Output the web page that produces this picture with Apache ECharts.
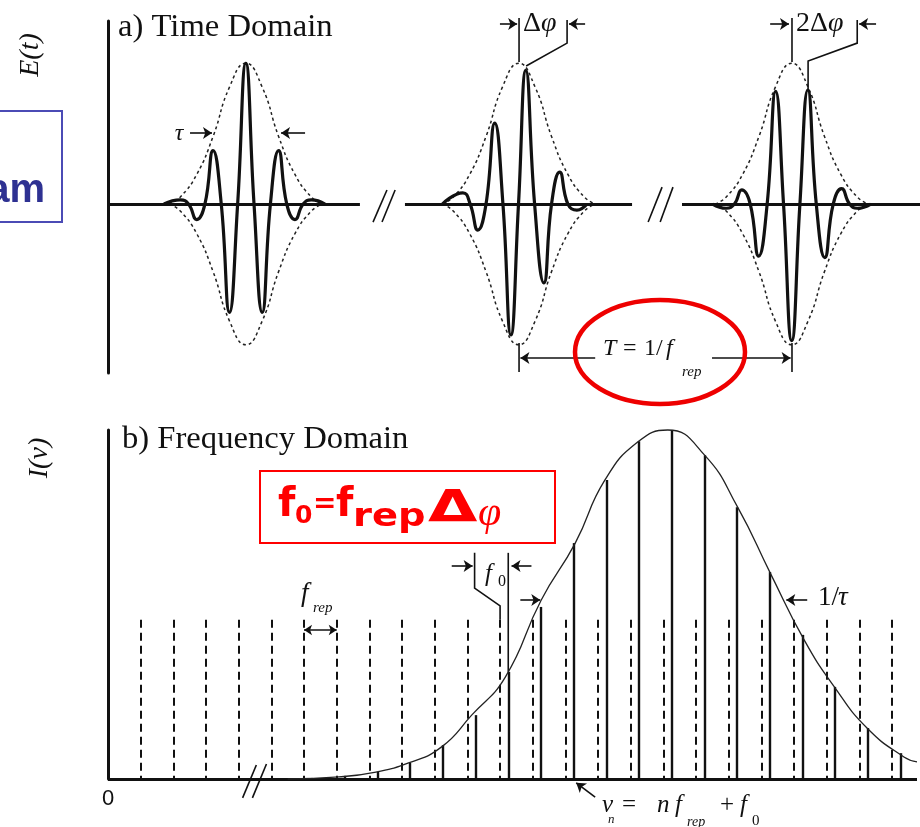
<!DOCTYPE html>
<html><head><meta charset="utf-8">
<script src="https://cdn.jsdelivr.net/npm/echarts/dist/echarts.min.js"></script>
<style>html,body{margin:0;padding:0;background:#fff}#c{width:920px;height:827px}</style>
</head><body><div id="c"></div>
<script>
// ---------- DATA ----------
// a) Time domain: time in arbitrary units, pulse spacing T = 10
const pulseCenters = [0, 10, 20];
// Gaussian envelope of one pulse, relative to its centre (time, field)
const envelopeShape = [[-2.8,0],[-2.4,0.05],[-1.8,0.21],[-1.2,0.48],[-0.6,0.83],[0,1],[0.6,0.83],[1.2,0.48],[1.8,0.21],[2.4,0.05],[2.8,0]];
// carrier field of the three pulses (turning points and zero crossings)
const carrier1 = [[-3.0,0],[-2.4,0.03],[-2.1,0],[-1.8,-0.11],[-1.5,0],[-1.2,0.38],[-0.9,0],[-0.6,-0.77],[-0.3,0],[0,1.0],[0.3,0],[0.6,-0.77],[0.9,0],[1.2,0.38],[1.5,0],[1.8,-0.11],[2.1,0],[2.4,0.03],[2.9,0]];
const carrier2 = [[7.2,0],[7.95,0.08],[8.22,0],[8.5,-0.185],[8.8,0],[9.12,0.575],[9.42,0],[9.71,-0.93],[9.99,0],[10.26,0.95],[10.58,0],[10.92,-0.56],[11.2,0],[11.5,0.227],[11.8,0],[12.13,-0.043],[12.5,0]];
const carrier3 = [[17.1,0],[17.6,-0.03],[17.9,0],[18.17,0.1],[18.48,0],[18.79,-0.37],[19.1,0],[19.41,0.8],[19.7,0],[20.0,-0.97],[20.3,0],[20.59,0.81],[20.9,0],[21.21,-0.38],[21.52,0],[21.83,0.11],[22.12,0],[22.4,-0.03],[22.9,0]];
const timeAxisSegments = [[-5.05,4.18],[5.83,14.15],[15.98,24.7]];

// b) Frequency domain: frequency in units of f_rep
const combTeeth = [1,2,3,4,5,6,7,8,9,10,11,12,13,14,15,16,17,18,19,20,21,22,23,24];
const combTeethHeight = 0.456;
const modeFreqs = [6.25,7.25,8.25,9.25,10.25,11.25,12.25,13.25,14.25,15.25,16.25,17.25,18.25,19.25,20.25,21.25,22.25,23.25,24.25];
const modeIntensity = [0.003,0.009,0.02,0.046,0.097,0.183,0.307,0.493,0.676,0.857,0.968,1.0,0.928,0.779,0.593,0.413,0.264,0.146,0.074];
const spectrumEnvelope = [[5.5,0],[7.07,0.006],[8.2,0.02],[9.2,0.046],[10.21,0.092],[11.13,0.183],[12.16,0.292],[13.26,0.513],[14.3,0.676],[15.21,0.857],[16.22,0.966],[17.13,1.0],[18.26,0.928],[19.27,0.779],[20.27,0.59],[21.31,0.398],[22.23,0.264],[23.23,0.146],[24.36,0.063],[24.76,0.049]];
const freqTickLabels = ['0'];

// annotation geometry in data units
const topArrows = [
  [[-2.045,0.504],[-1.24,0.504]], [[2.17,0.504],[1.29,0.504]],
  [[9.31,1.278],[9.94,1.278]], [[12.43,1.278],[11.84,1.278]],
  [[19.21,1.278],[19.9,1.278]], [[23.09,1.278],[22.47,1.278]],
  [[12.8,-1.094],[10.06,-1.094]], [[17.08,-1.094],[19.96,-1.094]]
];
const topBrackets = [
  [[10.01,1.321],[10.01,1.009]], [[11.77,1.307],[11.77,1.143],[10.27,0.98]],
  [[20.01,1.321],[20.01,1.009]], [[22.4,1.307],[22.4,1.143],[20.6,1.016],[20.6,0.81]],
  [[10.01,-0.987],[10.01,-1.193]], [[20.01,-0.987],[20.01,-1.193]],
  [[4.66,-0.128],[5.17,0.1]], [[4.99,-0.128],[5.47,0.1]],
  [[14.74,-0.128],[15.25,0.12]], [[15.18,-0.128],[15.65,0.12]]
];
const botArrows = [
  [[10.52,0.61],[11.16,0.61]], [[12.96,0.61],[12.35,0.61]],
  [[12.62,0.513],[13.23,0.513]], [[21.4,0.513],[20.76,0.513]],
  [[14.91,-0.052],[14.33,-0.011]]
];
const botDoubleArrows = [ [[6,0.427],[7,0.427]] ];
const botBrackets = [
  [[11.22,0.648],[11.22,0.547],[12.0,0.496],[12.0,0.456]],
  [[12.25,0.648],[12.25,0.307]],
  [[4.12,-0.054],[4.54,0.04]], [[4.42,-0.054],[4.85,0.043]]
];

// ---------- CHART ----------
const ink = '#111';
const SERIF = '"Liberation Serif","Times New Roman",serif';
const chart = echarts.init(document.getElementById('c'), null, {renderer:'canvas'});

function curve(data, gi, style, smooth, z) {
  return {type:'line', xAxisIndex:gi, yAxisIndex:gi, data, symbol:'none', smooth, clip:false,
    lineStyle: style, silent:true, animation:false, z: z||2};
}
function segs(list, gi, style, extra) {
  return Object.assign({type:'lines', coordinateSystem:'cartesian2d', xAxisIndex:gi, yAxisIndex:gi,
    data: list.map(c => ({coords:c})), lineStyle: Object.assign({opacity:1}, style), symbol:'none',
    silent:true, animation:false, clip:false, z:3}, extra||{});
}
function txt(x, y, text, font, opt) {
  opt = opt || {};
  return {type:'text', x, y, z:100, silent:true, rotation: opt.rot||0, scaleX: opt.sx||1,
    style:{text, font, fill: opt.fill||ink, textAlign: opt.align||'left', align: opt.align||'left',
      textVerticalAlign:'middle', verticalAlign:'middle'}};
}

const series = [];
// time domain
series.push(segs(timeAxisSegments.map(s => [[s[0],0],[s[1],0]]), 0, {width:3, color:ink}));
pulseCenters.forEach(c => {
  series.push(curve(envelopeShape.map(p => [p[0]+c, p[1]]), 0, {width:1.5, type:[3,3], color:'#222'}, 0.5));
  series.push(curve(envelopeShape.map(p => [p[0]+c, -p[1]]), 0, {width:1.5, type:[3,3], color:'#222'}, 0.5));
});
[carrier1, carrier2, carrier3].forEach(cd => series.push(curve(cd, 0, {width:3.2, color:ink}, 0.5, 4)));
series.push(segs(topBrackets, 0, {width:1.6, color:ink}, {polyline:true}));
series.push(segs(topArrows, 0, {width:1.6, color:ink}, {symbol:['none','arrow'], symbolSize:9}));

// frequency domain
series.push(segs(combTeeth.map(n => [[n,combTeethHeight],[n,0]]), 1, {width:2, type:[8,5], color:ink}));
series.push(segs(modeFreqs.map((f,i) => [[f,0],[f,modeIntensity[i]]]), 1, {width:2.4, color:ink}));
series.push(curve(spectrumEnvelope, 1, {width:1.3, color:'#222'}, 0.5, 4));
series.push(segs([[[0,0],[24.76,0]]], 1, {width:3, color:ink}));
series.push(segs(botBrackets, 1, {width:1.6, color:ink}, {polyline:true}));
series.push(segs(botArrows, 1, {width:1.6, color:ink}, {symbol:['none','arrow'], symbolSize:9}));
series.push(segs(botDoubleArrows, 1, {width:1.6, color:ink}, {symbol:['arrow','arrow'], symbolSize:8}));

const hideAx = {axisLine:{show:false}, axisTick:{show:false}, axisLabel:{show:false}, splitLine:{show:false}};
const yAx = (gi, min, max) => ({gridIndex:gi, type:'value', min, max,
  axisLine:{show:true, onZero:false, lineStyle:{width:3, color:ink}},
  axisTick:{show:false}, axisLabel:{show:false}, splitLine:{show:false}});

const R = '#ff0000';
const RF = '"DejaVu Sans",sans-serif';
const graphic = [
  {type:'rect', shape:{x:-10, y:111, width:72, height:111}, style:{fill:'none', stroke:'#4b4bb5', lineWidth:2}, silent:true},
  txt(45, 191, 'am', 'bold 40px "Liberation Sans",Arial,sans-serif', {align:'right', fill:'#2e3192'}),
  txt(118, 27.5, 'a) Time Domain', '32px '+SERIF, {sx:1.02}),
  txt(122, 439.5, 'b) Frequency Domain', '32px '+SERIF, {sx:1.02}),
  txt(31, 55, 'E(t)', 'italic 28px '+SERIF, {align:'center', rot:Math.PI/2}),
  txt(40, 458, 'I(ν)', 'italic 28px '+SERIF, {align:'center', rot:Math.PI/2}),
  txt(179, 134, 'τ', 'italic 24px '+SERIF, {align:'center'}),
  txt(523, 23.5, 'Δ', '28px '+SERIF), txt(541, 23.5, 'φ', 'italic 28px '+SERIF),
  txt(796, 23.5, '2', '28px '+SERIF), txt(810, 23.5, 'Δ', '28px '+SERIF), txt(828, 23.5, 'φ', 'italic 28px '+SERIF),
  txt(603, 349, 'T', 'italic 24px '+SERIF), txt(623, 349, '=', '24px '+SERIF),
  txt(644, 349, '1/', '24px '+SERIF), txt(666, 349, 'f', 'italic 24px '+SERIF),
  txt(682, 372, 'rep', 'italic 15px '+SERIF),
  txt(301, 594, 'f', 'italic 27px '+SERIF), txt(313, 608, 'rep', 'italic 15px '+SERIF),
  txt(485, 574, 'f', 'italic 25px '+SERIF), txt(498, 582, '0', '16px '+SERIF),
  txt(818, 598, '1/', '27px '+SERIF), txt(838, 598, 'τ', 'italic 27px '+SERIF),
  txt(602, 805, 'ν', 'italic 25px '+SERIF), txt(608, 820, 'n', 'italic 13px '+SERIF),
  txt(622, 805, '=', '25px '+SERIF), txt(657, 805, 'n', 'italic 25px '+SERIF),
  txt(675, 805, 'f', 'italic 25px '+SERIF), txt(687, 822, 'rep', 'italic 14px '+SERIF),
  txt(720, 805, '+', '25px '+SERIF), txt(740, 805, 'f', 'italic 25px '+SERIF),
  txt(752, 821, '0', '15px '+SERIF),
  {type:'rect', shape:{x:260, y:471, width:295, height:72}, style:{fill:'none', stroke:R, lineWidth:2}, silent:true, z:90},
  txt(278, 506, 'f', 'bold 40px '+RF, {fill:R}),
  txt(295, 516, '0', 'bold 25px '+RF, {fill:R}),
  txt(313, 505, '=', 'bold 28px '+RF, {fill:R}),
  txt(336, 506, 'f', 'bold 40px '+RF, {fill:R}),
  txt(353, 518, 'rep', 'bold 32px '+RF, {fill:R, sx:1.2}),
  txt(428, 511, 'Δ', 'bold 44px '+RF, {fill:R, sx:1.45}),
  txt(478, 514, 'φ', 'italic 42px '+SERIF, {fill:R}),
  {type:'ellipse', shape:{cx:660, cy:352, rx:85, ry:52}, style:{fill:'none', stroke:'#ee0000', lineWidth:4.5}, silent:true, z:95}
];

chart.setOption({
  backgroundColor:'#fff',
  animation:false,
  grid:[{left:108, top:21, width:812, height:352}, {left:108, top:430, width:812, height:349}],
  xAxis:[
    Object.assign({gridIndex:0, type:'value', min:-5.05, max:24.7}, hideAx),
    {gridIndex:1, type:'value', min:0, max:24.76, interval:5,
      axisLine:{show:false}, axisTick:{show:false}, splitLine:{show:false},
      axisLabel:{show:true, margin:9, fontSize:22, fontFamily:'"Liberation Sans",Arial,sans-serif', color:ink,
        formatter: v => (v === 0 ? freqTickLabels[0] : '')}}
  ],
  yAxis:[yAx(0, -1.2, 1.3), yAx(1, 0, 1)],
  series,
  graphic
});
</script></body></html>
